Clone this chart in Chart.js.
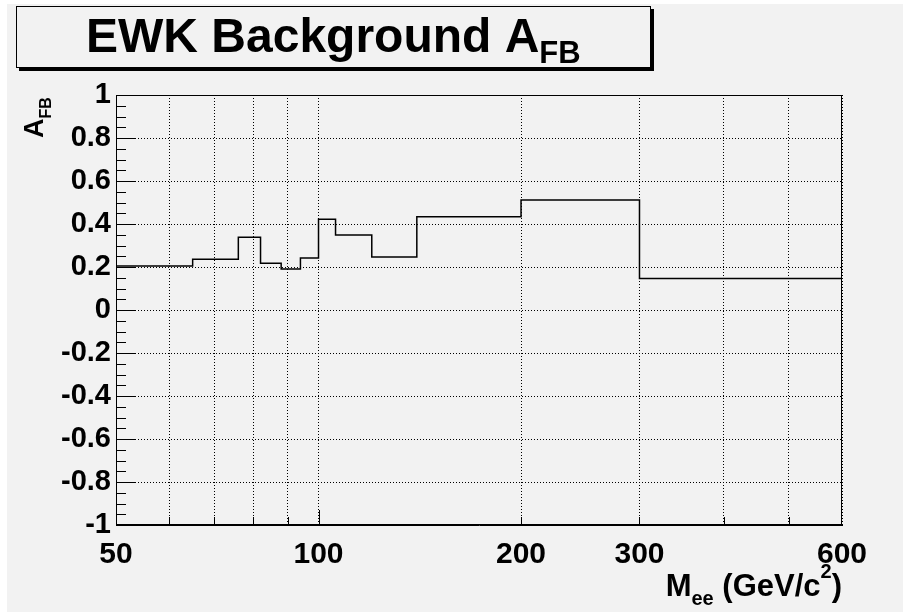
<!DOCTYPE html>
<html>
<head>
<meta charset="utf-8">
<title>EWK Background AFB</title>
<script src="https://cdn.jsdelivr.net/npm/chart.js@4.4.1/dist/chart.umd.min.js"></script>
<style>
  html, body { margin: 0; padding: 0; background: #fff; overflow: hidden; }
  #wrap { width: 903px; height: 614px; }
</style>
</head>
<body>
<div id="wrap"><canvas id="afbChart"></canvas></div>
<script>
// bin edges in M_ee (GeV/c^2) and the A_FB content of each bin
var binEdges = [50, 65, 76, 82, 88, 94, 100, 106, 120, 140, 200, 300, 600];
var afbValues = [0.205, 0.236, 0.338, 0.217, 0.191, 0.242, 0.422, 0.349, 0.247, 0.434, 0.512, 0.147];

// log axis divisions, and the ones that get a number
var massTicks = [50, 60, 70, 80, 90, 100, 200, 300, 400, 500, 600];
var massLabels = [50, 100, 200, 300, 600];

var FONT = '"Liberation Sans", Arial, Helvetica, sans-serif';

// step line: every edge carries its bin value, the last edge repeats the last bin
var histPoints = binEdges.map(function (x, i) {
  return { x: x, y: afbValues[Math.min(i, afbValues.length - 1)] };
});

// text with sub/superscripts: parts are [text, size, baseline shift]
function drawRich(ctx, parts, x, y, align) {
  var widths = parts.map(function (p) {
    ctx.font = 'bold ' + p[1] + 'px ' + FONT;
    return ctx.measureText(p[0]).width;
  });
  var total = widths.reduce(function (a, b) { return a + b; }, 0);
  var cx = align === 'right' ? x - total : x;
  ctx.textAlign = 'left';
  ctx.textBaseline = 'alphabetic';
  ctx.fillStyle = '#000';
  parts.forEach(function (p, i) {
    ctx.font = 'bold ' + p[1] + 'px ' + FONT;
    ctx.fillText(p[0], cx, y + p[2]);
    cx += widths[i];
  });
}

// ROOT style pad: grey canvas, title box with shadow, frame, inward ticks, axis titles
var rootPad = {
  id: 'rootPad',
  beforeDraw: function (chart) {
    var ctx = chart.ctx;
    ctx.save();
    ctx.fillStyle = '#fff';
    ctx.fillRect(0, 0, chart.width, chart.height);
    ctx.fillStyle = '#f2f2f2';
    ctx.fillRect(7, 4, chart.width - 7, 608);
    ctx.restore();
  },
  afterDraw: function (chart) {
    var ctx = chart.ctx;
    var ca = chart.chartArea;
    var xs = chart.scales.x, ys = chart.scales.y;
    ctx.save();

    // frame
    ctx.strokeStyle = '#000';
    ctx.lineWidth = 1;
    ctx.strokeRect(ca.left + 0.5, ca.top + 0.5, ca.right - ca.left - 1, ca.bottom - ca.top - 1);

    // tick marks pointing into the frame
    ctx.beginPath();
    for (var i = -20; i <= 20; i++) {
      var py = Math.round(ys.getPixelForValue(i / 20)) + 0.5;
      var len = i % 4 === 0 ? 20 : 10;
      ctx.moveTo(ca.left, py);
      ctx.lineTo(ca.left + len, py);
    }
    massTicks.forEach(function (m) {
      if (m === 50 || m === 600) return;
      var px = Math.round(xs.getPixelForValue(m)) + 0.5;
      var l = m === 100 ? 15 : 8;
      ctx.moveTo(px, ca.bottom);
      ctx.lineTo(px, ca.bottom - l);
    });
    ctx.stroke();

    // title box
    ctx.fillStyle = '#000';
    ctx.fillRect(19, 9, 635, 62);
    ctx.fillStyle = '#f2f2f2';
    ctx.fillRect(16, 6, 635, 62);
    ctx.strokeRect(16.5, 6.5, 634, 61);
    drawRich(ctx, [['EWK Background A', 48, 0], ['FB', 31, 11]], 86, 52, 'left');

    // x axis title
    drawRich(ctx, [['M', 31, 0], ['ee', 20, 9], [' (GeV/c', 31, 0], ['2', 20, -18], [')', 31, 0]],
      ca.right, 596, 'right');

    // y axis title, rotated
    ctx.translate(43, 138);
    ctx.rotate(-Math.PI / 2);
    drawRich(ctx, [['A', 27, 0], ['FB', 16, 8]], 0, 0, 'left');

    ctx.restore();
  }
};

var afbChart = new Chart(document.getElementById('afbChart'), {
  type: 'line',
  data: {
    datasets: [{
      data: histPoints,
      stepped: 'before',
      borderColor: '#000',
      borderWidth: 1.5,
      pointRadius: 0,
      fill: false
    }]
  },
  options: {
    responsive: true,
    maintainAspectRatio: false,
    animation: false,
    events: [],
    layout: { padding: { top: 95, right: 61, left: 0, bottom: 0 } },
    plugins: { legend: { display: false }, tooltip: { enabled: false }, title: { display: false } },
    scales: {
      x: {
        type: 'logarithmic',
        min: 50,
        max: 600,
        afterBuildTicks: function (scale) {
          scale.ticks = massTicks.map(function (v) { return { value: v }; });
        },
        afterFit: function (scale) { scale.height = 89; },
        grid: { color: '#000', lineWidth: 1, drawTicks: false },
        border: { display: true, color: '#000', width: 1, dash: [1, 2] },
        ticks: {
          autoSkip: false,
          maxRotation: 0,
          padding: 12,
          color: '#000',
          font: { family: FONT, size: 30, weight: 'bold' },
          callback: function (v) { return massLabels.indexOf(v) >= 0 ? String(v) : ''; }
        }
      },
      y: {
        min: -1,
        max: 1,
        afterFit: function (scale) { scale.width = 116; },
        grid: { color: '#000', lineWidth: 1, drawTicks: false },
        border: { display: true, color: '#000', width: 1, dash: [1, 2] },
        ticks: {
          stepSize: 0.2,
          padding: 5,
          color: '#000',
          font: { family: FONT, size: 29, weight: 'bold' },
          callback: function (v) { return String(parseFloat(v.toFixed(2))); }
        }
      }
    }
  },
  plugins: [rootPad]
});
</script>
</body>
</html>
